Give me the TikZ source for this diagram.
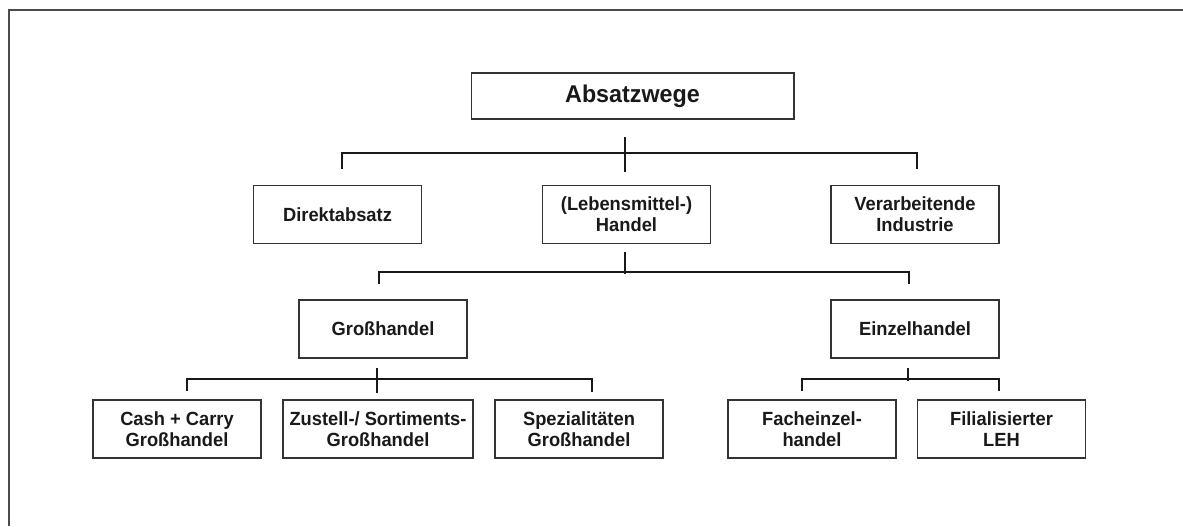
\documentclass[tikz,border=0pt]{standalone}
\usepackage{fontspec}
\setmainfont{Liberation Sans}[FakeStretch=0.96]
\usetikzlibrary{calc}
\begin{document}
\begin{tikzpicture}[x=0.75pt, y=-0.75pt,
		box/.style={draw=black!80, line width=1pt, align=center, inner sep=0pt,
			minimum width=126pt, minimum height=43.5pt, text=black!90,
			font=\fontsize{14.3}{15.6}\selectfont\bfseries},
		conn/.style={draw=black!90, line width=1.5pt}]
		\useasboundingbox (0,0) rectangle (1183,526);
		\draw[black!70, line width=1pt] (1183,10) -- (9,10) -- (9,526);

		\node[box, minimum width=242pt, minimum height=34.5pt, font=\fontsize{18.2}{18}\selectfont\bfseries] (wege) at (632.5,96) {Absatzwege};

		\node[box] (direkt) at (337.5,214.5) {Direktabsatz};
		\node[box] (handel) at (626.5,214.5) {(Lebensmittel-)\\Handel};
		\node[box] (verarb) at (915,214.5) {Verarbeitende\\Industrie};

		\node[box] (gross) at (383,329) {Großhandel};
		\node[box] (einzel) at (915,329) {Einzelhandel};

		\node[box] (cash) at (177,429) {Cash + Carry\\Großhandel};
		\node[box, minimum width=142.5pt] (zustell) at (378,429) {Zustell-/ Sortiments-\\Großhandel};
		\node[box] (spez) at (579,429) {Spezialitäten\\Großhandel};
		\node[box] (fach) at (812,429) {Facheinzel-\\handel};
		\node[box] (filial) at (1001.5,429) {Filialisierter\\LEH};

		\draw[conn] ($(handel.north)+(-1.5,-13)$) -- ++(0,-35);
		\draw[conn] ($(direkt.north)+(4.5,-16)$) |- ($(verarb.north)+(2,-32)$) -- ++(0,16);

		\draw[conn] ($(handel.south)+(-1.5,8)$) -- ++(0,22);
		\draw[conn] ($(gross.north)+(-4,-15)$) |- ($(einzel.north)+(-6,-27)$) -- ++(0,12);

		\draw[conn] ($(gross.south)+(-6,9)$) -- ++(0,25);
		\draw[conn] ($(cash.north)+(10,-8)$) |- ($(spez.north)+(13,-20)$) -- ++(0,13);

		\draw[conn] ($(einzel.south)+(-7,9)$) -- ++(0,13);
		\draw[conn] ($(fach.north)+(-10,-8)$) |- ($(filial.north)+(-2.5,-20)$) -- ++(0,12);
	\end{tikzpicture}
\end{document}
